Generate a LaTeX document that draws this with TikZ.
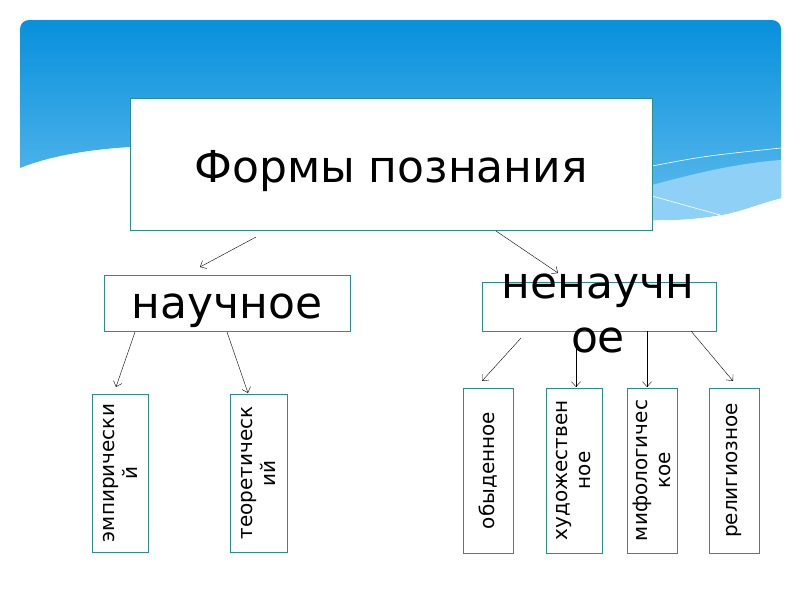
\documentclass[tikz,border=0pt]{standalone}
\usepackage{fontspec}
\setmainfont{DejaVu Sans}
\usetikzlibrary{arrows.meta}
\definecolor{frame}{HTML}{2A8F8C}
\definecolor{skytop}{HTML}{0890DC}
\definecolor{skybot}{HTML}{62BDEE}
\definecolor{skylight}{HTML}{8FD1F6}

\begin{document}
\begin{tikzpicture}[x=1pt,y=-1pt,
  box/.style={draw=frame,line width=0.8pt,fill=white,inner sep=0pt},
  big/.style={font=\fontsize{44}{54}\selectfont},
  side/.style={box,rotate=90,align=center,font=\fontsize{20}{23}\selectfont},
  arr/.style={-{Straight Barb[length=5pt,width=9pt]},line width=0.4pt}]
\useasboundingbox (0,0) rectangle (800,600);
\shade[top color=skytop,bottom color=skybot] (20,168) [rounded corners=9pt] -- (20,20) -- (781,20) [sharp corners] -- (781,198)
  .. controls (760,203) and (740,212) .. (720,215) .. controls (690,220) and (670,220) .. (652,220) -- (400,225) -- (130,147)
  .. controls (80,150) and (45,158) .. (20,168) -- cycle;
\fill[skylight] (652,185) .. controls (700,172) and (740,163) .. (781,160) -- (781,198)
  .. controls (760,203) and (740,212) .. (720,215) .. controls (690,220) and (670,220) .. (652,220) -- cycle;
\draw[white,line width=0.6pt] (652,166) .. controls (705,156) .. (781,148);
\draw[white,line width=0.6pt] (652,196) -- (720,215);

\node(forms)[box,big,minimum width=522,minimum height=132,text height=36pt,text depth=0pt] at (391,164) {Формы познания};
\node(nauch)[box,big,minimum width=246,minimum height=56,text height=30pt,text depth=0pt] at (227,303) {научное};
\node(nenauch)[box,minimum width=234,minimum height=49] at (599,306.5) {};
\node(nenauchtxt)[big,align=center,anchor=base] at (598,352) {ненаучн\\ое};

\node(emp)[side,minimum width=158,minimum height=56] at (120,473) {эмпирически\\й};
\node(teor)[side,minimum width=158,minimum height=57] at (258.5,473) {теоретическ\\ий};
\node(obyd)[side,minimum width=165,minimum height=50] at (488,470.5) {обыденное};
\node(hud)[side,minimum width=165,minimum height=56] at (574,470.5) {художествен\\ное};
\node(mif)[side,minimum width=165,minimum height=50] at (652,470.5) {мифологичес\\кое};
\node(rel)[side,minimum width=165,minimum height=50] at (734,470.5) {религиозное};

\coordinate(formsL) at (256,237);
\coordinate(nauchIn) at (200,267);
\coordinate(formsR) at (496,231);
\coordinate(nenauchIn) at (558,273);
\coordinate(nauchL) at (135,332);
\coordinate(empIn) at (116,387);
\coordinate(nauchR) at (227,332);
\coordinate(teorIn) at (248,393);
\coordinate(nenA) at (521,338);
\coordinate(obydIn) at (482,381);
\coordinate(nenB) at (576,331);
\coordinate(hudIn) at (576,387);
\coordinate(nenC) at (647,331);
\coordinate(mifIn) at (647,387);
\coordinate(nenD) at (691,331);
\coordinate(relIn) at (733,381);

\draw[arr] (formsL) -- (nauchIn);
\draw[arr] (formsR) -- (nenauchIn);
\draw[arr] (nauchL) -- (empIn);
\draw[arr] (nauchR) -- (teorIn);
\draw[arr] (nenA) -- (obydIn);
\draw[arr] (nenB) -- (hudIn);
\draw[arr] (nenC) -- (mifIn);
\draw[arr] (nenD) -- (relIn);
\end{tikzpicture}
\end{document}
